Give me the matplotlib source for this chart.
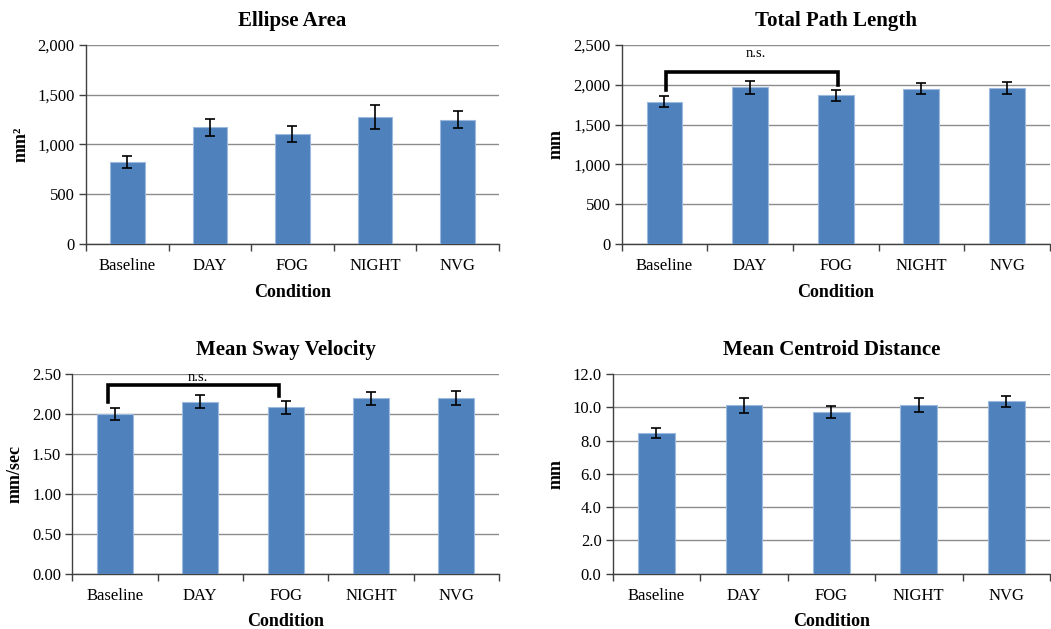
import matplotlib
matplotlib.use("Agg")
import matplotlib.pyplot as plt
import numpy as np
from matplotlib.ticker import FuncFormatter, FixedLocator

plt.rcParams['font.family'] = ['Liberation Serif', 'DejaVu Serif']

categories = ["Baseline", "DAY", "FOG", "NIGHT", "NVG"]

ellipse_area = [825, 1175, 1105, 1272, 1250]
ellipse_err = [57, 85, 80, 120, 82]

path_length = [1785, 1968, 1867, 1953, 1960]
path_err = [69, 79, 69, 72, 80]

sway_velocity = [2.00, 2.155, 2.085, 2.198, 2.198]
sway_err = [0.077, 0.085, 0.080, 0.082, 0.090]

centroid_dist = [8.43, 10.11, 9.72, 10.14, 10.36]
centroid_err = [0.30, 0.45, 0.38, 0.43, 0.32]

panels = [
    dict(title="Ellipse Area", ylabel="mm²", vals=ellipse_area, err=ellipse_err,
         ymax=2000, step=500, fmt=lambda v, p: f"{v:,.0f}",
         rect=[0.0818, 0.6121, 0.3930, 0.3164], bracket=None),
    dict(title="Total Path Length", ylabel="mm", vals=path_length, err=path_err,
         ymax=2500, step=500, fmt=lambda v, p: f"{v:,.0f}",
         rect=[0.5915, 0.6121, 0.4075, 0.3164],
         bracket=dict(y=2166, left_end=1932, right_end=2003, text_y=2310, dx=0.02)),
    dict(title="Mean Sway Velocity", ylabel="mm/sec", vals=sway_velocity, err=sway_err,
         ymax=2.5, step=0.5, fmt=lambda v, p: f"{v:.2f}",
         rect=[0.0688, 0.0879, 0.4060, 0.3175],
         bracket=dict(y=2.358, left_end=2.146, right_end=2.225, text_y=2.375, dx=-0.08)),
    dict(title="Mean Centroid Distance", ylabel="mm", vals=centroid_dist, err=centroid_err,
         ymax=12.0, step=2.0, fmt=lambda v, p: f"{v:.1f}",
         rect=[0.5830, 0.0879, 0.4160, 0.3175], bracket=None),
]

fig = plt.figure(figsize=(10.51, 6.29), dpi=100)
bar_color = "#4F81BD"
x = np.arange(len(categories))

for pnl in panels:
    ax = fig.add_axes(pnl["rect"])
    ax.bar(x, pnl["vals"], width=0.42, color=bar_color, edgecolor="#9DB9DD",
           linewidth=0.8, zorder=3)
    ax.errorbar(x, pnl["vals"], yerr=pnl["err"], fmt="none", ecolor="black",
                elinewidth=1.2, capsize=3.5, capthick=1.2, zorder=4)
    ax.set_xlim(-0.5, len(categories) - 0.5)
    ax.set_ylim(0, pnl["ymax"])
    ax.set_yticks(np.arange(0, pnl["ymax"] + pnl["step"] / 2, pnl["step"]))
    ax.yaxis.set_major_formatter(FuncFormatter(pnl["fmt"]))
    ax.yaxis.grid(True, color="#8C8C8C", linewidth=1.0, zorder=0)
    ax.set_axisbelow(True)
    ax.set_xticks(x)
    ax.set_xticklabels(categories)
    ax.xaxis.set_minor_locator(FixedLocator(np.arange(-0.5, len(categories), 1.0)))
    ax.tick_params(axis="x", which="major", length=0, pad=10, labelsize=12)
    ax.tick_params(axis="x", which="minor", length=5, width=1, color="#404040", direction="out")
    ax.tick_params(axis="y", which="major", length=5, width=1, color="#404040",
                   direction="out", labelsize=12, pad=3)
    for s in ["top", "right"]:
        ax.spines[s].set_visible(False)
    for s in ["left", "bottom"]:
        ax.spines[s].set_color("#404040")
        ax.spines[s].set_linewidth(1.0)
    ax.set_title(pnl["title"], fontsize=15, fontweight="bold", pad=14)
    ax.set_xlabel("Condition", fontsize=13, fontweight="bold", labelpad=7)
    ax.set_ylabel(pnl["ylabel"], fontsize=13, fontweight="bold", labelpad=6)

    b = pnl["bracket"]
    if b is not None:
        x0, x1 = x[0] + b["dx"], x[2] + b["dx"]
        ax.plot([x0, x0, x1, x1], [b["left_end"], b["y"], b["y"], b["right_end"]],
                color="black", linewidth=2.6, solid_joinstyle="miter", zorder=5,
                clip_on=False)
        ax.text((x0 + x1) / 2 + 0.05, b["text_y"], "n.s.", ha="center", va="bottom",
                fontsize=10.5, zorder=5)

fig.savefig("out.png", dpi=100)
